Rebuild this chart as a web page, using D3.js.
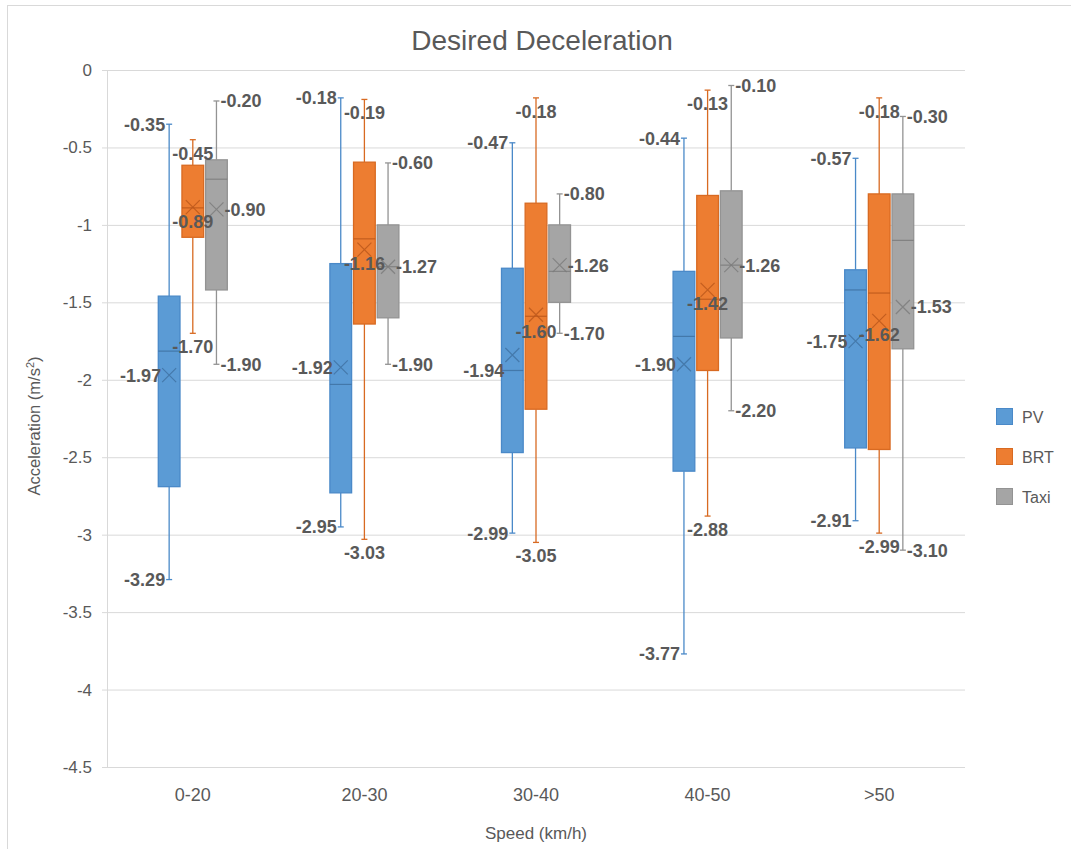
<!DOCTYPE html>
<html><head><meta charset="utf-8">
<script src="https://cdn.jsdelivr.net/npm/d3@7"></script>
<style>
body{margin:0;background:#fff;}
text{font-family:"Liberation Sans",Arial,sans-serif;}
</style>
</head><body>
<svg id="chart" width="1071" height="849"></svg>
<script>
// ---- data ----
const categories = ["0-20", "20-30", "30-40", "40-50", ">50"];
const seriesNames = ["PV", "BRT", "Taxi"];
const yTicks = [0, -0.5, -1, -1.5, -2, -2.5, -3, -3.5, -4, -4.5];

const pvMax    = [-0.35, -0.18, -0.47, -0.44, -0.57];
const pvQ3     = [-1.46, -1.25, -1.28, -1.30, -1.29];
const pvMedian = [-1.815, -2.03, -1.94, -1.72, -1.42];
const pvQ1     = [-2.69, -2.73, -2.47, -2.59, -2.44];
const pvMin    = [-3.29, -2.95, -2.99, -3.77, -2.91];
const pvMean   = [-1.97, -1.92, -1.84, -1.90, -1.75];
const pvLabel  = [-1.97, -1.92, -1.94, -1.90, -1.75];

const brtMax    = [-0.45, -0.19, -0.18, -0.13, -0.18];
const brtQ3     = [-0.615, -0.595, -0.86, -0.81, -0.80];
const brtMedian = [-0.89, -1.09, -1.59, -1.48, -1.44];
const brtQ1     = [-1.08, -1.64, -2.19, -1.94, -2.45];
const brtMin    = [-1.70, -3.03, -3.05, -2.88, -2.99];
const brtMean   = [-0.885, -1.16, -1.58, -1.42, -1.62];
const brtLabel  = [-0.89, -1.16, -1.60, -1.42, -1.62];

const taxiMax    = [-0.20, -0.60, -0.80, -0.10, -0.30];
const taxiQ3     = [-0.58, -1.00, -1.00, -0.78, -0.80];
const taxiMedian = [-0.705, -1.27, -1.30, -1.26, -1.10];
const taxiQ1     = [-1.42, -1.60, -1.50, -1.73, -1.80];
const taxiMin    = [-1.90, -1.90, -1.70, -2.20, -3.10];
const taxiMean   = [-0.90, -1.27, -1.26, -1.26, -1.53];
const taxiLabel  = [-0.90, -1.27, -1.26, -1.26, -1.53];

const series = [
  {name:"PV", max:pvMax, q3:pvQ3, median:pvMedian, q1:pvQ1, min:pvMin, mean:pvMean, label:pvLabel,
   fill:"#5B9BD5", stroke:"#4A89C8", dark:"#3E70A0", labelPos:"left"},
  {name:"BRT", max:brtMax, q3:brtQ3, median:brtMedian, q1:brtQ1, min:brtMin, mean:brtMean, label:brtLabel,
   fill:"#ED7D31", stroke:"#D86A22", dark:"#B9561A", labelPos:"below"},
  {name:"Taxi", max:taxiMax, q3:taxiQ3, median:taxiMedian, q1:taxiQ1, min:taxiMin, mean:taxiMean, label:taxiLabel,
   fill:"#A5A5A5", stroke:"#939393", dark:"#7A7A7A", labelPos:"right"}
];

// ---- layout ----
const plot = {left:107, right:965, top:70, bottom:767};
const svg = d3.select("#chart");
svg.append("rect").attr("x",7.5).attr("y",5.5).attr("width",1200).attr("height",1000)
  .attr("fill","#fff").attr("stroke","#D9D9D9");

const y = d3.scaleLinear().domain([-4.5, 0]).range([plot.bottom, plot.top]);
const x0 = d3.scaleBand().domain(categories).range([plot.left, plot.right])
  .paddingInner(0.592).paddingOuter(0.296);
const x1 = d3.scaleBand().domain(seriesNames).range([0, x0.bandwidth()]).paddingInner(0.04);

// gridlines
const grid = svg.append("g").attr("transform", `translate(${plot.left},0)`)
  .call(d3.axisLeft(y).tickValues(yTicks).tickSize(-(plot.right - plot.left)).tickFormat(""));
grid.select(".domain").remove();
grid.selectAll("line").attr("stroke", "#D9D9D9").attr("stroke-width", 1);

// y axis
const yAxis = svg.append("g").attr("transform", `translate(${plot.left},0)`)
  .call(d3.axisLeft(y).tickValues(yTicks).tickSizeInner(5).tickSizeOuter(0).tickPadding(10)
    .tickFormat(d => String(d)));
yAxis.select(".domain").attr("stroke", "#D9D9D9");
yAxis.selectAll("line").attr("stroke", "#D9D9D9");
yAxis.selectAll("text").attr("fill", "#595959").style("font-size", "17px")
  .style("font-family", "'Liberation Sans', Arial, sans-serif");

// x axis
const xAxis = svg.append("g").attr("transform", `translate(0,${plot.bottom})`)
  .call(d3.axisBottom(x0).tickSize(0).tickPadding(21));
xAxis.select(".domain").remove();
xAxis.selectAll("text").attr("fill", "#595959").style("font-size", "18px")
  .style("font-family", "'Liberation Sans', Arial, sans-serif");

// boxes
const bw = x1.bandwidth();
const capHalf = 3;
const fmt = v => v.toFixed(2);
const labelLayer = [];

series.forEach(s => {
  const g = svg.append("g");
  categories.forEach((c, i) => {
    const xl = x0(c) + x1(s.name);
    const cx = xl + bw / 2;
    // whiskers
    g.append("line").attr("x1", cx).attr("x2", cx).attr("y1", y(s.max[i])).attr("y2", y(s.q3[i]))
      .attr("stroke", s.stroke).attr("stroke-width", 1.3);
    g.append("line").attr("x1", cx).attr("x2", cx).attr("y1", y(s.q1[i])).attr("y2", y(s.min[i]))
      .attr("stroke", s.stroke).attr("stroke-width", 1.3);
    [s.max[i], s.min[i]].forEach(v => {
      g.append("line").attr("x1", cx - capHalf).attr("x2", cx + capHalf).attr("y1", y(v)).attr("y2", y(v))
        .attr("stroke", s.stroke).attr("stroke-width", 1.3);
    });
    // box
    g.append("rect").attr("x", xl + 0.5).attr("y", y(s.q3[i]))
      .attr("width", bw - 1).attr("height", y(s.q1[i]) - y(s.q3[i]))
      .attr("fill", s.fill).attr("stroke", s.stroke).attr("stroke-width", 1.3);
    // median
    g.append("line").attr("x1", xl + 0.5).attr("x2", xl + bw - 0.5)
      .attr("y1", y(s.median[i])).attr("y2", y(s.median[i]))
      .attr("stroke", s.dark).attr("stroke-width", 1.2).attr("opacity", 0.8);
    // mean marker X
    const my = y(s.mean[i]), r = 7;
    g.append("path").attr("d", `M${cx - r},${my - r}L${cx + r},${my + r}M${cx - r},${my + r}L${cx + r},${my - r}`)
      .attr("stroke", s.dark).attr("stroke-width", 1.2).attr("fill", "none").attr("opacity", 0.8);

    // labels
    [
      {v: s.max[i], t: fmt(s.max[i]), off: 4},
      {v: s.label[i], t: fmt(s.label[i]), off: 8},
      {v: s.min[i], t: fmt(s.min[i]), off: 4}
    ].forEach(it => labelLayer.push({s, cx, ...it}));
  });
});

const lg = svg.append("g");
labelLayer.forEach(l => {
  const t = lg.append("text").text(l.t).attr("fill", "#595959")
    .style("font-size", "18px").style("font-weight", "bold");
  if (l.s.labelPos === "left") {
    t.attr("x", l.cx - l.off).attr("y", y(l.v)).attr("dy", "0.36em").attr("text-anchor", "end");
  } else if (l.s.labelPos === "right") {
    t.attr("x", l.cx + l.off).attr("y", y(l.v)).attr("dy", "0.36em").attr("text-anchor", "start");
  } else {
    t.attr("x", l.cx).attr("y", y(l.v) + 20).attr("text-anchor", "middle");
  }
});

// title
svg.append("text").attr("x", 542).attr("y", 50).attr("text-anchor", "middle")
  .attr("fill", "#595959").style("font-size", "28px").text("Desired Deceleration");

// axis titles
svg.append("text").attr("transform", `translate(40,426) rotate(-90)`)
  .attr("text-anchor", "middle").attr("fill", "#595959").style("font-size", "16.5px")
  .html('Acceleration (m/s<tspan baseline-shift="super" font-size="11px">2</tspan>)');
svg.append("text").attr("x", (plot.left + plot.right) / 2).attr("y", 839).attr("text-anchor", "middle")
  .attr("fill", "#595959").style("font-size", "17px").text("Speed (km/h)");

// legend
const legend = svg.append("g");
series.forEach((s, i) => {
  const ly = 408 + i * 40;
  legend.append("rect").attr("x", 996.5).attr("y", ly + 0.5).attr("width", 16).attr("height", 16)
    .attr("fill", s.fill).attr("stroke", s.stroke);
  legend.append("text").attr("x", 1022).attr("y", ly + 9).attr("dy", "0.36em")
    .attr("fill", "#595959").style("font-size", "16px").text(s.name);
});
</script>
</body></html>
